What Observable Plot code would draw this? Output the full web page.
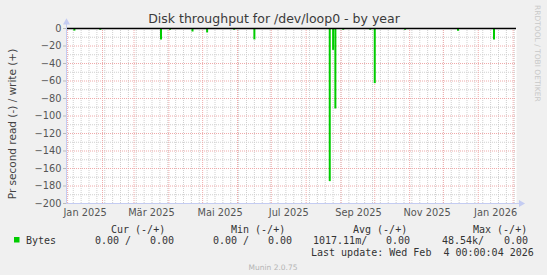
<!DOCTYPE html>
<html><head><meta charset="utf-8">
<script src="https://cdn.jsdelivr.net/npm/d3@7"></script>
<script src="https://cdn.jsdelivr.net/npm/@observablehq/plot@0.6"></script>
<style>
html,body{margin:0;padding:0;background:#f0f0f0;}
#wrap{width:547px;height:275px;overflow:hidden;background:#f0f0f0;}
</style></head><body><div id="wrap"></div>
<script>
// ---- data ----
const spikeDates = ["2025-01-07","2025-01-30","2025-03-25","2025-04-02","2025-04-22","2025-05-05","2025-05-29","2025-06-16","2025-08-22","2025-08-25","2025-08-27","2025-09-03","2025-09-27","2025-10-01","2025-10-28","2025-12-14","2026-01-15"];
const readValues = [-3,-2,-13,-2,-4,-5,-2,-13,-175,-25,-92,-2,-2,-63,-2,-3,-13];
const yTicks = [0,-20,-40,-60,-80,-100,-120,-140,-160,-180,-200];
const yMinor = [-10,-30,-50,-70,-90,-110,-130,-150,-170,-190];
const monthLabels = ["Jan 2025","Mär 2025","Mai 2025","Jul 2025","Sep 2025","Nov 2025","Jan 2026"];
const monthLabelDates = ["2025-01-16T12:00Z","2025-03-16T12:00Z","2025-05-16T12:00Z","2025-07-16T12:00Z","2025-09-16T12:00Z","2025-11-16T12:00Z","2026-01-16T12:00Z"];
const legendHeaders = ["Cur (-/+)","Min (-/+)","Avg (-/+)","Max (-/+)"];
const legendSeries = "Bytes";
const legendValues = [["0.00 /","0.00"],["0.00 /","0.00"],["1017.11m/","0.00"],["48.54k/","0.00"]];
const title = "Disk throughput for /dev/loop0 - by year";
const yLabel = "Pr second read (-) / write (+)";
const lastUpdate = "Last update: Wed Feb  4 00:00:04 2026";
const footer = "Munin 2.0.75";
const sideText = "RRDTOOL / TOBI OETIKER";

// ---- build ----
const spikes = spikeDates.map((d,i)=>({date:new Date(d+"T00:00Z"), value:readValues[i]}));
const x0 = new Date(Date.UTC(2024,11,31));
const x1 = new Date(Date.UTC(2026,1,4));
const xAxisEnd = new Date(Date.UTC(2026,1,8));
const months = d3.utcMonth.range(d3.utcMonth.ceil(x0), x1);
const weeks = d3.utcMonday.range(x0, x1);
const labelDates = monthLabelDates.map(d=>new Date(d));
const axisColor = "#c4ccf2";

const chart = Plot.plot({
  width:547, height:275,
  marginLeft:66, marginRight:31, marginTop:28, marginBottom:72,
  style:{background:"#f0f0f0", fontFamily:"DejaVu Sans", fontSize:"9.8px", color:"#555", overflow:"visible"},
  x:{type:"utc", domain:[x0,x1]},
  y:{domain:[-200,0]},
  marks:[
    Plot.frame({fill:"white", stroke:null}),
    Plot.ruleX(weeks, {stroke:"#cfcfcf", strokeDasharray:"1,1"}),
    Plot.ruleY(yMinor, {stroke:"#cfcfcf", strokeDasharray:"1,1"}),
    Plot.ruleX(months, {stroke:"#efaaaa", strokeDasharray:"1,1"}),
    Plot.ruleY(yTicks.filter(v=>v!==0 && v!==-200), {stroke:"#efaaaa", strokeDasharray:"1,1"}),
    Plot.ruleX(spikes, {x:"date", y1:0, y2:"value", stroke:"#00cc00", strokeWidth:2}),
    Plot.ruleY([0], {stroke:"#000", strokeWidth:1.5}),
    Plot.ruleX([x0], {y1:-200, y2:6, stroke:axisColor}),
    Plot.ruleY([-200], {x1:x0, x2:xAxisEnd, stroke:axisColor}),
    Plot.dot([x0], {x:d=>d, y:7, symbol:"triangle", r:2.6, fill:axisColor, stroke:null}),
    Plot.dot([xAxisEnd], {x:d=>d, y:-200, symbol:"triangle", r:2.6, rotate:90, fill:axisColor, stroke:null}),
    Plot.axisY({ticks:yTicks, tickSize:3, tickPadding:2, label:null, stroke:"#bbb"}),
    Plot.axisX({ticks:labelDates, tickFormat:(d,i)=>monthLabels[i], tickSize:0, tickPadding:6, label:null})
  ]
});
document.getElementById("wrap").appendChild(chart);

// ---- texts ----
const svg = d3.select(chart);
const txt = (x,y,s,opts={})=>{
  const t = svg.append("text").attr("x",x).attr("y",y).text(s)
    .attr("font-family",opts.family||"DejaVu Sans")
    .attr("font-size",opts.size||"10px")
    .attr("fill",opts.fill||"#333")
    .attr("text-anchor",opts.anchor||"start")
    .style("white-space","pre");
  if (opts.transform) t.attr("transform",opts.transform);
  return t;
};
txt(274,23,title,{size:"12.5px",anchor:"middle",fill:"#3a3a3a"});
txt(0,0,yLabel,{size:"10.5px",anchor:"middle",fill:"#444",transform:"translate(15.5,124) rotate(-90)"});
txt(0,0,sideText,{size:"7.5px",anchor:"start",fill:"#c8c8c8",transform:"translate(535,5) rotate(90)"});
const mono = {family:"DejaVu Sans Mono", size:"10px", fill:"#333"};
const headerX = [111,231,353,473];
legendHeaders.forEach((h,i)=>txt(headerX[i],232.5,h,mono));
svg.append("rect").attr("x",14).attr("y",237).attr("width",5.5).attr("height",5.5).attr("fill","#00cc00");
txt(26,244,legendSeries,mono);
const valX = [[95,150],[213,268],[313,386],[442,504]];
legendValues.forEach((pair,i)=>{ txt(valX[i][0],244,pair[0],mono); txt(valX[i][1],244,pair[1],mono); });
txt(311,256,lastUpdate,mono);
txt(273,269.5,footer,{size:"7.5px",anchor:"middle",fill:"#b4b4b4"});
</script>
</body></html>
